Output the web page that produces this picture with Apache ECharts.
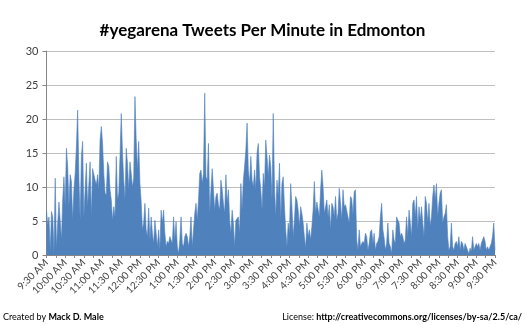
<!DOCTYPE html>
<html>
<head>
<meta charset="utf-8">
<script src="https://cdn.jsdelivr.net/npm/echarts@6/dist/echarts.min.js"></script>
<style>html,body{margin:0;padding:0;background:#fff}#c{width:525px;height:325px}</style>
</head>
<body>
<div id="c"></div>
<script>
// Tweets per minute, sampled every 2 minutes, starting 9:30 AM
const tpm0930 = [6.6,4.4,5.6,0.5,6.4,5.6,0.3,11.3,1.0,4.7,7.8,7.6,2.2,8.1,11.5,
  7.1,15.7,13,7.1,11.8,10.8,5.1,9.6,12,15.9,21.3,11.5,5.1,14.5,16.7,
  5.6,9.6,13.5,7.1,6.9,13.7,5.6,12.7,12.5,11,10.3,11.8,9.6,16.9,18.9,
  16.4,12,9.1,8.8,13.7,13,9.6,8.1,5.1,7.1,5.6,14.5,8.1,9.1,14.5];
const tpm1130 = [20.8,15,11,8.1,15.7,13.5,9.6,13.7,12,10,11.3,23.3,16.9,12.5,16.7,
  10.5,7.8,3.7,4.7,7.6,3.7,2.7,6.9,2.2,5.6,3.2,1.7,5.1,3.2,1.2,
  3.7,0.7,6.6,4.7,6.6,3.2,1.2,2,1.7,2.7,2.9,1.7,5.6,2.2,4.9,
  1.2,0.2,2.2,5.6,1.7,1.2,2.7,3.2,2.7,1.2,2.7,5.6,1.2,1,6.1];
const tpm1330 = [7.6,5.1,8.1,12,12.5,10.5,12,23.8,11.5,11,16.4,6.1,9.6,12.7,12.5,
  6.6,8.6,9.1,7.4,6.6,11,9.6,7.6,6.1,11.8,7.6,9.6,5.1,3.2,6.6,
  4.7,1.2,5.1,4.9,5.6,3.2,10.5,6.6,11,13,15.4,19.4,12.5,10.5,14.5,
  11,10,12.5,9.6,15,16.4,11.5,9.6,6.6,12,10,16.9,14.5,11.5,14.7];
const tpm1530 = [13,8.1,20.8,10,5.6,11,8.6,13.5,5.1,10.5,11.5,7.1,3.7,1.2,4.7,
  3.2,10.5,7.1,2.7,5.1,8.6,8.1,6.6,4.2,7.1,6.1,4.7,2.7,1,4.7,
  2.7,3.7,2.2,4.2,6.6,10.8,6.1,7.8,7.6,5.6,9.6,12.5,10,6.1,7.1,
  8.1,5.6,7.4,3.7,7.6,7.1,5.6,8.6,5.1,6.1,9.8,7.6,5.1,9.6,7.1];
const tpm1730 = [7.4,7.6,5.6,4.7,8.6,8.3,5.9,9.3,9.6,2.2,0.7,3.7,1.2,1.7,2,
  1.7,3.2,2.7,0.7,1.7,3.4,3.7,1.7,3.2,0.7,1.7,2,2.7,5.6,7.6,
  3.7,2.5,0.7,1.7,4.7,1.7,1.2,0.2,3.7,2.2,1.7,5.6,5.6,4.7,2.7,
  3.2,2.7,1.7,2.2,5.6,2.7,6.6,4.7,2.7,7.6,8.1,5.6,8.6,3.7,7.1];
const tpm1930 = [5.1,7.1,4.7,2.7,8.6,7.6,4.7,7.6,4.2,5.6,8.6,10.3,8.1,10.5,5.6,
  7.6,9.1,9.6,4.7,5.6,6.1,7.4,2.7,0.7,1.2,4.7,1.2,0.7,1.7,2,
  1.2,2.7,0.7,2,1.7,0.7,1.7,1.7,0.7,0.2,1,0.5,2.7,0.7,1.2,
  1.7,1.2,1.7,0.7,1.7,2.2,2.7,2,0.7,1.2,0.7,1.2,1.7,2.7,4.7];
const tpm2130 = [0.7];

const timeLabels = ['9:30 AM','10:00 AM','10:30 AM','11:00 AM','11:30 AM','12:00 PM','12:30 PM',
  '1:00 PM','1:30 PM','2:00 PM','2:30 PM','3:00 PM','3:30 PM','4:00 PM','4:30 PM','5:00 PM',
  '5:30 PM','6:00 PM','6:30 PM','7:00 PM','7:30 PM','8:00 PM','8:30 PM','9:00 PM','9:30 PM'];
const yTicks = [0,5,10,15,20,25,30];
const stepMinutes = 2;

const values = [].concat(tpm0930, tpm1130, tpm1330, tpm1530, tpm1730, tpm1930, tpm2130);
const seriesData = values.map((v, i) => [i * stepMinutes, v]);

const chart = echarts.init(document.getElementById('c'), null, {renderer: 'canvas'});
const font = 'Lato, "Open Sans", sans-serif';
chart.setOption({
  animation: false,
  backgroundColor: '#fff',
  title: {
    text: '#yegarena Tweets Per Minute in Edmonton',
    left: 'center', top: 17,
    textStyle: {fontFamily: font, fontWeight: 'bold', fontSize: 17, color: '#000'}
  },
  grid: {left: 46.5, right: 30, top: 51, bottom: 70, containLabel: false},
  xAxis: {
    type: 'value', min: 0, max: 720, interval: 15,
    axisLine: {show: true, lineStyle: {color: '#868686', width: 1}},
    axisTick: {show: true, length: 3, lineStyle: {color: '#868686'}},
    splitLine: {show: false},
    axisLabel: {
      rotate: 45, fontFamily: font, fontSize: 10, color: '#404040', margin: 6,
      formatter: v => (v % 30 === 0 ? timeLabels[v / 30] : '')
    }
  },
  yAxis: {
    type: 'value', min: yTicks[0], max: yTicks[yTicks.length - 1], interval: 5,
    axisLine: {show: true, lineStyle: {color: '#868686', width: 1}},
    axisTick: {show: true, length: 4, lineStyle: {color: '#868686'}},
    splitLine: {show: true, lineStyle: {color: '#bfbfbf', width: 1}},
    axisLabel: {fontFamily: font, fontSize: 11, color: '#404040', margin: 8}
  },
  series: [{
    type: 'line',
    data: seriesData,
    symbol: 'none',
    lineStyle: {width: 0.6, color: '#4f81bd'},
    areaStyle: {color: '#4f81bd', opacity: 1}
  }],
  graphic: [
    {type: 'text', left: 3, top: 313, style: {
      text: '{n|Created by }{b|Mack D. Male}',
      rich: {n: {fontFamily: font, fontSize: 9, fill: '#000'}, b: {fontFamily: font, fontSize: 9, fontWeight: 'bold', fill: '#000'}}
    }},
    {type: 'text', right: 3, top: 313, style: {
      text: '{n|License: }{b|http://creativecommons.org/licenses/by-sa/2.5/ca/}',
      rich: {n: {fontFamily: font, fontSize: 9, fill: '#000'}, b: {fontFamily: font, fontSize: 9, fontWeight: 'bold', fill: '#000'}}
    }}
  ]
});
</script>
</body>
</html>
